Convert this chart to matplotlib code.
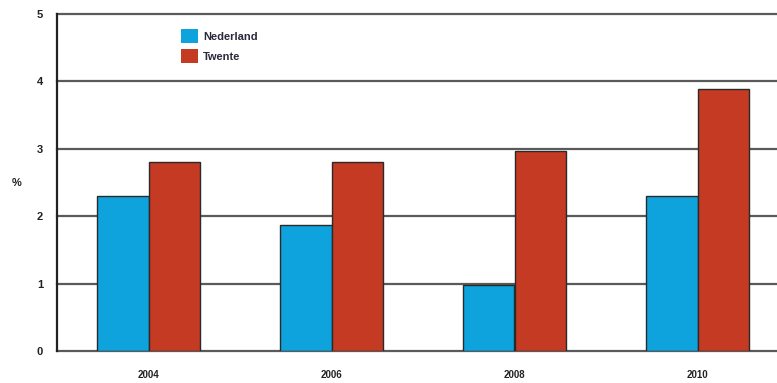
import matplotlib

matplotlib.use('Agg')
import matplotlib.pyplot as plt  # noqa: E402
import numpy as np  # noqa: E402

years = ['2004', '2006', '2008', '2010']
nederland = [2.30, 1.87, 0.98, 2.30]
twente = [2.80, 2.80, 2.97, 3.88]
y_ticks = [0, 1, 2, 3, 4, 5]

BLUE = '#0ea3dd'
RED = '#c43a22'
GRID = '#5a5a5a'

plt.rcParams['font.family'] = ['Liberation Sans', 'DejaVu Sans']

fig = plt.figure(figsize=(7.77, 3.83), dpi=100)
# axes runs past the right edge of the figure, like the cropped original
ax = fig.add_axes([57 / 777, 32 / 383, (789 - 57) / 777, (351 - 14) / 383])

x = np.arange(len(years))
w = 0.28
ax.bar(x - w / 2, nederland, w, color=BLUE, edgecolor='#2a2a2a', linewidth=1.0,
       label='Nederland', zorder=3)
ax.bar(x + w / 2, twente, w, color=RED, edgecolor='#2a2a2a', linewidth=1.0,
       label='Twente', zorder=3)

for t in y_ticks:
    ax.axhline(t, color=GRID, linewidth=1.6, zorder=1, clip_on=False)

ax.set_xlim(-0.5, 3.5)
ax.set_ylim(0, 5)
ax.set_yticks(y_ticks)
ax.set_xticks(x)
ax.set_xticklabels(years)
for s in ['top', 'right', 'bottom']:
    ax.spines[s].set_visible(False)
ax.spines['left'].set_color('#222222')
ax.spines['left'].set_linewidth(1.6)
ax.tick_params(axis='y', length=0, pad=10, labelsize=8, labelcolor='#222222')
ax.tick_params(axis='x', length=0, pad=14, labelsize=7, labelcolor='#222222')
for lab in ax.get_yticklabels() + ax.get_xticklabels():
    lab.set_fontweight('bold')

fig.text(17 / 777, 1 - 183 / 383, '%', fontsize=8, fontweight='bold',
         color='#222222', ha='center', va='center')

ax.legend(loc='upper left', bbox_to_anchor=(181 / 777, 1 - 29 / 383),
          bbox_transform=fig.transFigure, frameon=False,
          prop={'size': 8, 'weight': 'bold'},
          handlelength=1.55, handleheight=1.56, handletextpad=0.45,
          labelspacing=0.55, borderpad=0, borderaxespad=0)
leg = ax.get_legend()
for h in leg.legend_handles:
    h.set_edgecolor('none')
for t in leg.get_texts():
    t.set_color('#2a2a3a')

fig.savefig('out.png', dpi=100)
plt.close(fig)
